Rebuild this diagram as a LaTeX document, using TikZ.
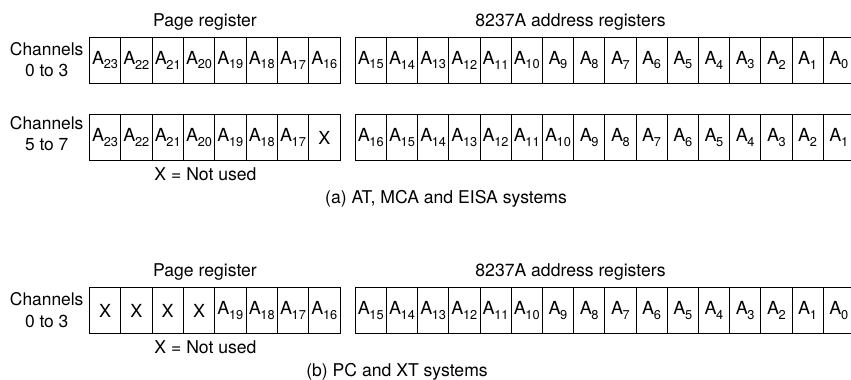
\documentclass[tikz,border=0pt]{standalone}
\usepackage{fontspec}
\setmainfont{TeX Gyre Heros}
\newcommand{\Asub}[1]{A\kern-0.4pt\raisebox{-0.5ex}{\fontsize{12.8}{12.8}\selectfont #1}}
\tikzset{
  cell/.style={draw, line width=0.9pt, minimum width=31.25pt, minimum height=46pt,
    inner sep=0pt, anchor=north west, font=\fontsize{18}{18}\selectfont},
  lbl/.style={font=\fontsize{17.4}{21.7}\selectfont, align=center, inner sep=0pt},
  captxt/.style={font=\fontsize{17.6}{20}\selectfont, inner sep=0pt, anchor=base},
}
\begin{document}
\begin{tikzpicture}[x=1pt,y=-1pt]
\useasboundingbox (0,0) rectangle (851,380);
% ---------- (a) row 1 ----------
\node[captxt] (pr1) at (205,26.5) {Page register};
\node[captxt] (ar1) at (570.5,26.5) {8237A address registers};
\node[lbl] (ch1) at (46.7,59.5) {Channels\\0 to 3};
\foreach \t [count=\i from 0] in {23,22,21,20,19,18,17,16}
  \node[cell] (p1c\i) at (89+\i*31.33,36.7) {\Asub{\t}};
\foreach \t [count=\i from 0] in {15,14,13,12,11,10,9,8,7,6,5,4,3,2,1,0}
  \node[cell] (a1c\i) at (354.7+\i*31.2,36.7) {\Asub{\t}};
% ---------- (a) row 2 ----------
\node[lbl] (ch2) at (46.7,133.6) {Channels\\5 to 7};
\foreach \t [count=\i from 0] in {23,22,21,20,19,18,17}
  \node[cell] (p2c\i) at (89+\i*31.33,114.2) {\Asub{\t}};
\node[cell] (p2c7) at (89+7*31.33,114.2) {X};
\foreach \t [count=\i from 0] in {16,15,14,13,12,11,10,9,8,7,6,5,4,3,2,1}
  \node[cell] (a2c\i) at (354.7+\i*31.2,114.2) {\Asub{\t}};
\node[captxt] (nu1) at (205.5,180.5) {X = Not used};
\node[captxt] (capa) at (446,203) {(a) AT, MCA and EISA systems};
% ---------- (b) ----------
\node[captxt] (pr3) at (205,276.7) {Page register};
\node[captxt] (ar3) at (570.5,276.7) {8237A address registers};
\node[lbl] (ch3) at (46.7,310.2) {Channels\\0 to 3};
\foreach \i in {0,1,2,3}
  \node[cell] (p3c\i) at (89+\i*31.33,287.3) {X};
\foreach \t [count=\i from 4] in {19,18,17,16}
  \node[cell] (p3c\i) at (89+\i*31.33,287.3) {\Asub{\t}};
\foreach \t [count=\i from 0] in {15,14,13,12,11,10,9,8,7,6,5,4,3,2,1,0}
  \node[cell] (a3c\i) at (354.7+\i*31.2,287.3) {\Asub{\t}};
\node[captxt] (nu3) at (205.5,353.3) {X = Not used};
\node[captxt] (capb) at (397,376.7) {(b) PC and XT systems};
\end{tikzpicture}
\end{document}
